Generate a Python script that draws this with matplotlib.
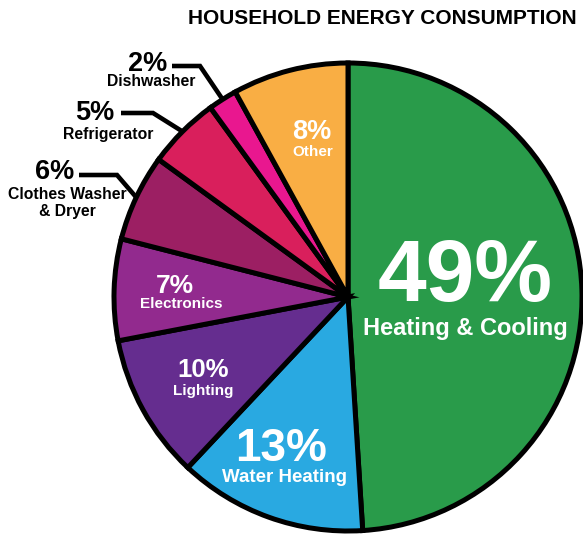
import numpy as np
import matplotlib
matplotlib.use("Agg")
import matplotlib.pyplot as plt

plt.rcParams['font.family'] = ['Liberation Sans', 'DejaVu Sans']

# ---- data ----
categories = ["Heating & Cooling", "Water Heating", "Lighting", "Electronics",
              "Clothes Washer\n& Dryer", "Refrigerator", "Dishwasher", "Other"]
values = [49, 13, 10, 7, 6, 5, 2, 8]
colors = ["#299b4a", "#29a9e1", "#652d8f", "#922a8e",
          "#9c1f63", "#d91f5c", "#e9178f", "#f9ae44"]
title = "HOUSEHOLD ENERGY CONSUMPTION"

W, H = 583, 534
fig = plt.figure(figsize=(W / 100, H / 100), dpi=100)
ax = fig.add_axes([0, 0, 1, 1])

cx, cy_px, R = 348, 297, 234
cy = H - cy_px

wedges, _ = ax.pie(values, colors=colors, startangle=90, counterclock=False,
                   center=(cx, cy), radius=R,
                   wedgeprops=dict(edgecolor="black", linewidth=3.6, joinstyle="miter"))
ax.set_xlim(0, W)
ax.set_ylim(0, H)
ax.set_aspect("equal")
ax.axis("off")


def T(x, y_px, s, size, va="center", **kw):
    ax.text(x, H - y_px, s, fontsize=size, fontweight="bold", ha="center",
            va=va, **kw)


# inside labels (white)
inside = {
    0: ((465, 279, 63), (465, 329, 17)),
    1: ((281, 449, 33), (284, 478, 13.5)),
    2: ((203, 370, 18.5), (203, 391, 11)),
    3: ((175, 286, 19), (181, 304, 11)),
    7: ((312, 132, 19.5), (313, 152, 11)),
}
for i, ((px, py, ps), (lx, ly, ls)) in inside.items():
    T(px, py, f"{values[i]}%", ps, color="white")
    T(lx, ly, categories[i], ls, color="white")

# outside labels with leader lines
outside = {
    6: ((148, 64), (151, 82), (172, 200, 66)),
    5: ((95, 113), (108, 134), (121, 153, 113)),
    4: ((55, 172), (67, 203), (79, 117, 175)),
}
for i, ((px, py), (lx, ly), (x0, x1, yl)) in outside.items():
    T(px, py, f"{values[i]}%", 19.5, color="black")
    T(lx, ly, categories[i], 11.3, color="black", linespacing=1.1)
    w = wedges[i]
    ang = np.deg2rad((w.theta1 + w.theta2) / 2)
    ex = cx + R * np.cos(ang)
    ey = cy + R * np.sin(ang)
    ax.plot([x0, x1, ex], [H - yl, H - yl, ey], color="black", lw=3.3,
            solid_joinstyle="miter", solid_capstyle="butt", zorder=0)

T(382, 18, title, 15, color="black")

fig.savefig("out.png", dpi=100)
